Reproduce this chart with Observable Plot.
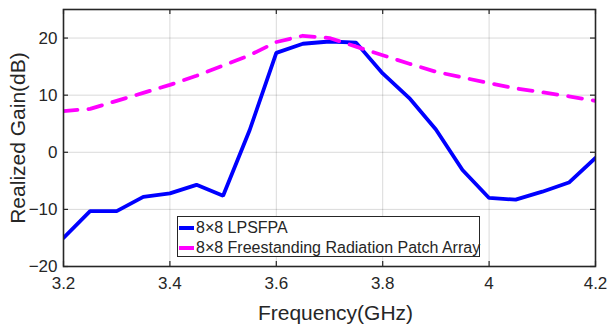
<!DOCTYPE html>
<html>
<head>
<meta charset="utf-8">
<script src="https://cdn.jsdelivr.net/npm/d3@7"></script>
<script src="https://cdn.jsdelivr.net/npm/@observablehq/plot@0.6"></script>
<style>
  html, body { margin: 0; padding: 0; background: #fff; }
  #wrap { position: relative; width: 607px; height: 326px; font-family: "Liberation Sans", Arial, sans-serif; }
  #legend { position: absolute; left: 177px; top: 216px; width: 301px; height: 39px; border: 1.5px solid #262626; background: #fff; box-sizing: content-box; }
  .row { position: absolute; left: 0; height: 20px; display: flex; align-items: center; font-size: 16px; color: #262626; white-space: nowrap; }
  .sw { width: 15px; height: 3.5px; margin-left: 1px; margin-right: 2px; }
</style>
</head>
<body>
<div id="wrap"></div>
<script>
const freq = [3.2, 3.25, 3.3, 3.35, 3.4, 3.45, 3.5, 3.55, 3.6, 3.65, 3.7, 3.75, 3.8, 3.85, 3.9, 3.95, 4.0, 4.05, 4.1, 4.15, 4.2];
const lpsfpa = [-15.0, -10.3, -10.3, -7.8, -7.2, -5.7, -7.6, 3.9, 17.4, 19.0, 19.4, 19.2, 13.8, 9.5, 4.0, -3.1, -8.0, -8.3, -6.9, -5.3, -1.0];
const freestanding = [7.2, 7.6, 9.0, 10.4, 11.8, 13.4, 15.2, 17.0, 19.3, 20.4, 20.0, 18.5, 17.0, 15.5, 14.1, 13.1, 12.1, 11.2, 10.5, 9.8, 9.0];
const xTicks = [3.2, 3.4, 3.6, 3.8, 4.0, 4.2];
const yTicks = [-20, -10, 0, 10, 20];
const seriesNames = ["8×8 LPSFPA", "8×8 Freestanding Radiation Patch Array"];
const xLabel = "Frequency(GHz)";
const yLabel = "Realized Gain(dB)";

const W = 607, H = 326;
const mL = 63, mR = 12, mT = 9, mB = 60;
const innerW = W - mL - mR, innerH = H - mT - mB;
const tickLen = 5;

const d1 = freq.map((f, i) => ({f, g: lpsfpa[i]}));
const d2 = freq.map((f, i) => ({f, g: freestanding[i]}));

const chart = Plot.plot({
  width: W, height: H,
  marginLeft: mL, marginRight: mR, marginTop: mT, marginBottom: mB,
  style: {fontFamily: "'Liberation Sans', Arial, sans-serif", color: "#262626", background: "#fff"},
  x: {domain: [3.2, 4.2]},
  y: {domain: [-20, 25]},
  marks: [
    Plot.gridX(xTicks, {stroke: "#000", strokeOpacity: 0.15, strokeWidth: 1}),
    Plot.gridY(yTicks, {stroke: "#000", strokeOpacity: 0.15, strokeWidth: 1}),
    Plot.line(d1, {x: "f", y: "g", stroke: "#0000ff", strokeWidth: 3.8, clip: true, strokeLinejoin: "miter"}),
    Plot.line(d2, {x: "f", y: "g", stroke: "#ff00ff", strokeWidth: 3.8, strokeDasharray: "14,11", clip: true}),
    Plot.frame({stroke: "#262626", strokeWidth: 1.6}),
    Plot.tickX(xTicks, {x: d => d, stroke: "#262626", strokeWidth: 1.2, insetBottom: innerH - tickLen}),
    Plot.tickX(xTicks, {x: d => d, stroke: "#262626", strokeWidth: 1.2, insetTop: innerH - tickLen}),
    Plot.tickY(yTicks, {y: d => d, stroke: "#262626", strokeWidth: 1.2, insetRight: innerW - tickLen}),
    Plot.tickY(yTicks, {y: d => d, stroke: "#262626", strokeWidth: 1.2, insetLeft: innerW - tickLen}),
    Plot.axisX(xTicks, {tickSize: 0, tickPadding: 10, fontSize: 17, label: null, tickFormat: d => d3.format("~g")(d)}),
    Plot.axisY(yTicks, {tickSize: 0, tickPadding: 6, fontSize: 17, label: null}),
    Plot.text([xLabel], {frameAnchor: "bottom", dy: 47, dx: 6, fontSize: 21, fill: "#262626", lineAnchor: "middle", textAnchor: "middle"}),
    Plot.text([yLabel], {frameAnchor: "left", dx: -45, rotate: -90, fontSize: 21, fill: "#262626", lineAnchor: "middle", textAnchor: "middle"})
  ]
});

const wrap = document.getElementById("wrap");
wrap.appendChild(chart);

const legend = document.createElement("div");
legend.id = "legend";
const colors = ["#0000ff", "#ff00ff"];
seriesNames.forEach((name, i) => {
  const row = document.createElement("div");
  row.className = "row";
  row.style.top = (1 + i * 20) + "px";
  const sw = document.createElement("span");
  sw.className = "sw";
  sw.style.background = colors[i];
  const t = document.createElement("span");
  t.textContent = name;
  row.appendChild(sw);
  row.appendChild(t);
  legend.appendChild(row);
});
wrap.appendChild(legend);
</script>
</body>
</html>
